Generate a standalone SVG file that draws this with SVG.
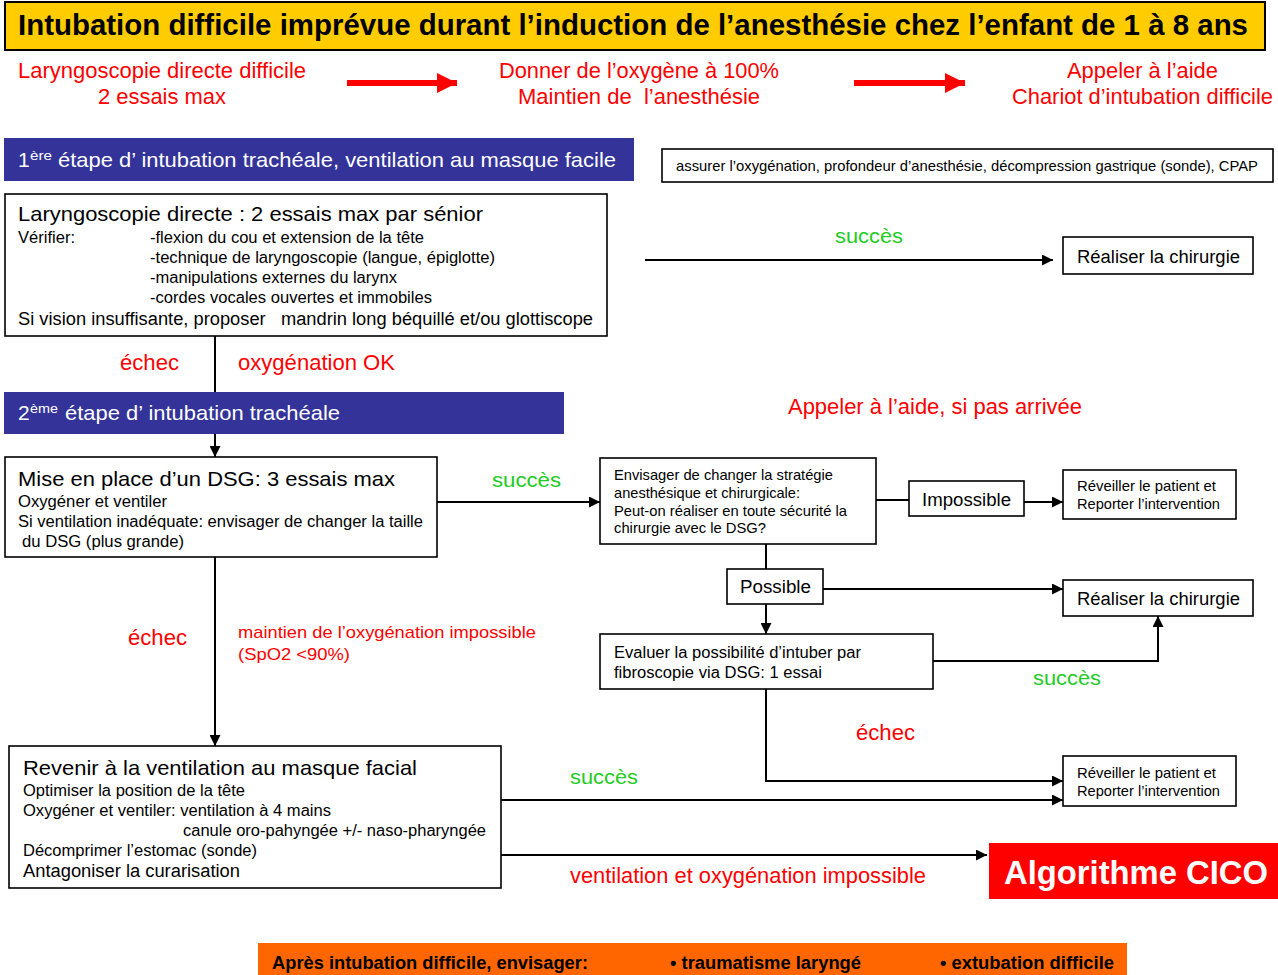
<svg xmlns="http://www.w3.org/2000/svg" width="1278" height="975" viewBox="0 0 1278 975">
<style>
text{font-family:"Liberation Sans",Arial,sans-serif;white-space:pre;}
.box{fill:#fff;stroke:#000;stroke-width:1.6;}
.blue{fill:#333399;}
.wt{fill:#fff;font-size:21px;}
.rd{fill:#ff0000;font-size:22px;}
.gr{fill:#22cc22;font-size:21px;}
.h{fill:#000;font-size:21px;}
.s{fill:#000;font-size:16px;}
.xs{fill:#000;font-size:14.5px;}
.m{fill:#000;font-size:18px;}
.ln{fill:none;stroke:#000;stroke-width:2;}
.rl{fill:none;stroke:#ff0000;stroke-width:6;}
</style>
<defs>
<marker id="ah" viewBox="0 0 10 10" refX="10" refY="5" markerWidth="11" markerHeight="11" markerUnits="userSpaceOnUse" orient="auto">
<path d="M0,0 L10,5 L0,10 z" fill="#000"/>
</marker>
<marker id="rah" viewBox="0 0 10 10" refX="10" refY="5" markerWidth="20" markerHeight="20" markerUnits="userSpaceOnUse" orient="auto">
<path d="M0,0 L10,5 L0,10 z" fill="#ff0000"/>
</marker>
</defs>
<rect width="1278" height="975" fill="#fff"/>

<g id="title">
<rect x="5" y="2" width="1260" height="48" fill="#ffcc00" stroke="#000" stroke-width="2"/>
<text x="18" y="35" font-size="29" font-weight="bold" textLength="1230" lengthAdjust="spacingAndGlyphs">Intubation difficile imprévue durant l’induction de l’anesthésie chez l’enfant de 1 à 8 ans</text>
</g>

<g id="top-line">
<text class="rd" x="18" y="78" textLength="288" lengthAdjust="spacingAndGlyphs">Laryngoscopie directe difficile</text>
<text class="rd" x="98" y="104" textLength="128" lengthAdjust="spacingAndGlyphs">2 essais max</text>
<text class="rd" x="499" y="78" textLength="280" lengthAdjust="spacingAndGlyphs">Donner de l’oxygène à 100%</text>
<text class="rd" x="518" y="104" textLength="242" lengthAdjust="spacingAndGlyphs" xml:space="preserve">Maintien de  l’anesthésie</text>
<text class="rd" x="1067" y="78" textLength="151" lengthAdjust="spacingAndGlyphs">Appeler à l’aide</text>
<text class="rd" x="1012" y="104" textLength="261" lengthAdjust="spacingAndGlyphs">Chariot d’intubation difficile</text>
<line class="rl" x1="347" y1="83" x2="457" y2="83" marker-end="url(#rah)"/>
<line class="rl" x1="854" y1="83" x2="965" y2="83" marker-end="url(#rah)"/>
</g>

<g id="step1">
<rect class="blue" x="4" y="138" width="630" height="43"/>
<text class="wt" x="18" y="167">1</text>
<text fill="#fff" font-size="13" x="30" y="160" textLength="22" lengthAdjust="spacingAndGlyphs">ère</text>
<text class="wt" x="58" y="167" textLength="558" lengthAdjust="spacingAndGlyphs">étape d’ intubation trachéale, ventilation au masque facile</text>
</g>

<g id="assurer">
<rect class="box" x="662" y="149" width="611" height="33"/>
<text x="676" y="171" font-size="15" textLength="582" lengthAdjust="spacingAndGlyphs">assurer l’oxygénation, profondeur d’anesthésie, décompression gastrique (sonde), CPAP</text>
</g>

<g id="laryngo">
<rect class="box" x="5" y="194" width="602" height="142"/>
<text class="h" x="18" y="221" textLength="465" lengthAdjust="spacingAndGlyphs">Laryngoscopie directe : 2 essais max par sénior</text>
<text class="s" x="18" y="243" textLength="57" lengthAdjust="spacingAndGlyphs">Vérifier:</text>
<text class="s" x="150" y="243" textLength="274" lengthAdjust="spacingAndGlyphs">-flexion du cou et extension de la tête</text>
<text class="s" x="150" y="263" textLength="345" lengthAdjust="spacingAndGlyphs">-technique de laryngoscopie (langue, épiglotte)</text>
<text class="s" x="150" y="283" textLength="247" lengthAdjust="spacingAndGlyphs">-manipulations externes du larynx</text>
<text class="s" x="150" y="303" textLength="282" lengthAdjust="spacingAndGlyphs">-cordes vocales ouvertes et immobiles</text>
<text class="m" x="18" y="325" textLength="575" lengthAdjust="spacingAndGlyphs" xml:space="preserve">Si vision insuffisante, proposer   mandrin long béquillé et/ou glottiscope</text>
</g>

<g id="realiser1">
<rect class="box" x="1063" y="237" width="190" height="37"/>
<text class="m" x="1077" y="263" textLength="163" lengthAdjust="spacingAndGlyphs">Réaliser la chirurgie</text>
</g>

<g id="step2">
<rect class="blue" x="4" y="392" width="560" height="42"/>
<text class="wt" x="18" y="420">2</text>
<text fill="#fff" font-size="13" x="30" y="413" textLength="28" lengthAdjust="spacingAndGlyphs">ème</text>
<text class="wt" x="65" y="420" textLength="275" lengthAdjust="spacingAndGlyphs">étape d’ intubation trachéale</text>
</g>

<g id="dsg">
<rect class="box" x="5" y="457" width="432" height="100"/>
<text class="h" x="18" y="486" textLength="377" lengthAdjust="spacingAndGlyphs">Mise en place d’un DSG: 3 essais max</text>
<text class="s" x="18" y="507" textLength="149" lengthAdjust="spacingAndGlyphs">Oxygéner et ventiler</text>
<text class="s" x="18" y="527" textLength="405" lengthAdjust="spacingAndGlyphs">Si ventilation inadéquate: envisager de changer la taille</text>
<text class="s" x="22" y="547" textLength="162" lengthAdjust="spacingAndGlyphs">du DSG (plus grande)</text>
</g>

<g id="strategie">
<rect class="box" x="600" y="458" width="276" height="86"/>
<text class="xs" x="614" y="480" textLength="219" lengthAdjust="spacingAndGlyphs">Envisager de changer la stratégie</text>
<text class="xs" x="614" y="498" textLength="186" lengthAdjust="spacingAndGlyphs">anesthésique et chirurgicale:</text>
<text class="xs" x="614" y="516" textLength="233" lengthAdjust="spacingAndGlyphs">Peut-on réaliser en toute sécurité la</text>
<text class="xs" x="614" y="533" textLength="152" lengthAdjust="spacingAndGlyphs">chirurgie avec le DSG?</text>
</g>

<g id="impossible">
<rect class="box" x="909" y="481" width="115" height="35"/>
<text class="m" x="922" y="506" textLength="89" lengthAdjust="spacingAndGlyphs">Impossible</text>
</g>

<g id="reveiller1">
<rect class="box" x="1063" y="470" width="173" height="49"/>
<text class="xs" x="1077" y="491" textLength="139" lengthAdjust="spacingAndGlyphs">Réveiller le patient et</text>
<text class="xs" x="1077" y="509" textLength="143" lengthAdjust="spacingAndGlyphs">Reporter l’intervention</text>
</g>

<g id="possible">
<rect class="box" x="727" y="569" width="96" height="35"/>
<text class="m" x="740" y="593" textLength="71" lengthAdjust="spacingAndGlyphs">Possible</text>
</g>

<g id="realiser2">
<rect class="box" x="1063" y="580" width="190" height="36"/>
<text class="m" x="1077" y="605" textLength="163" lengthAdjust="spacingAndGlyphs">Réaliser la chirurgie</text>
</g>

<g id="evaluer">
<rect class="box" x="600" y="634" width="333" height="55"/>
<text class="s" x="614" y="658" textLength="247" lengthAdjust="spacingAndGlyphs">Evaluer la possibilité d’intuber par</text>
<text class="s" x="614" y="678" textLength="208" lengthAdjust="spacingAndGlyphs">fibroscopie via DSG: 1 essai</text>
</g>

<g id="reveiller2">
<rect class="box" x="1063" y="756" width="173" height="50"/>
<text class="xs" x="1077" y="778" textLength="139" lengthAdjust="spacingAndGlyphs">Réveiller le patient et</text>
<text class="xs" x="1077" y="796" textLength="143" lengthAdjust="spacingAndGlyphs">Reporter l’intervention</text>
</g>

<g id="revenir">
<rect class="box" x="9" y="746" width="492" height="142"/>
<text class="h" x="23" y="775" textLength="394" lengthAdjust="spacingAndGlyphs">Revenir à la ventilation au masque facial</text>
<text class="s" x="23" y="796" textLength="222" lengthAdjust="spacingAndGlyphs">Optimiser la position de la tête</text>
<text class="s" x="23" y="816" textLength="308" lengthAdjust="spacingAndGlyphs">Oxygéner et ventiler: ventilation à 4 mains</text>
<text class="s" x="183" y="836" textLength="303" lengthAdjust="spacingAndGlyphs">canule oro-pahyngée +/- naso-pharyngée</text>
<text class="s" x="23" y="856" textLength="234" lengthAdjust="spacingAndGlyphs">Décomprimer l’estomac (sonde)</text>
<text class="m" x="23" y="877" textLength="217" lengthAdjust="spacingAndGlyphs">Antagoniser la curarisation</text>
</g>

<g id="cico">
<rect x="989" y="843" width="289" height="56" fill="#ff0000"/>
<text x="1004" y="884" fill="#fff" font-size="33" font-weight="bold" textLength="264" lengthAdjust="spacingAndGlyphs">Algorithme CICO</text>
</g>

<g id="apres">
<rect x="258" y="943" width="869" height="32" fill="#ff6600"/>
<text x="272" y="969" font-size="18" font-weight="bold" textLength="316" lengthAdjust="spacingAndGlyphs">Après intubation difficile, envisager:</text>
<text x="670" y="969" font-size="18" font-weight="bold" textLength="191" lengthAdjust="spacingAndGlyphs">• traumatisme laryngé</text>
<text x="940" y="969" font-size="18" font-weight="bold" textLength="174" lengthAdjust="spacingAndGlyphs">• extubation difficile</text>
</g>

<g id="labels">
<text class="gr" x="835" y="243" textLength="68" lengthAdjust="spacingAndGlyphs">succès</text>
<text class="rd" x="120" y="370" textLength="59" lengthAdjust="spacingAndGlyphs">échec</text>
<text class="rd" x="238" y="370" textLength="157" lengthAdjust="spacingAndGlyphs">oxygénation OK</text>
<text class="rd" x="788" y="414" textLength="294" lengthAdjust="spacingAndGlyphs">Appeler à l’aide, si pas arrivée</text>
<text class="gr" x="492" y="487" textLength="69" lengthAdjust="spacingAndGlyphs">succès</text>
<text class="rd" x="128" y="645" textLength="59" lengthAdjust="spacingAndGlyphs">échec</text>
<text class="rd" x="238" y="638" textLength="298" lengthAdjust="spacingAndGlyphs" style="font-size:17px">maintien de l’oxygénation impossible</text>
<text class="rd" x="238" y="660" style="font-size:17px" textLength="112" lengthAdjust="spacingAndGlyphs">(SpO2 &lt;90%)</text>
<text class="gr" x="1033" y="685" textLength="68" lengthAdjust="spacingAndGlyphs">succès</text>
<text class="rd" x="856" y="740" textLength="59" lengthAdjust="spacingAndGlyphs">échec</text>
<text class="gr" x="570" y="784" textLength="68" lengthAdjust="spacingAndGlyphs">succès</text>
<text class="rd" x="570" y="883" textLength="356" lengthAdjust="spacingAndGlyphs">ventilation et oxygénation impossible</text>
</g>

<g id="connectors">
<line class="ln" x1="645" y1="260" x2="1053" y2="260" marker-end="url(#ah)"/>
<line class="ln" x1="215" y1="336" x2="215" y2="392"/>
<line class="ln" x1="215" y1="434" x2="215" y2="457" marker-end="url(#ah)"/>
<line class="ln" x1="437" y1="502" x2="600" y2="502" marker-end="url(#ah)"/>
<line class="ln" x1="876" y1="500" x2="909" y2="500"/>
<line class="ln" x1="1024" y1="502" x2="1063" y2="502" marker-end="url(#ah)"/>
<line class="ln" x1="766" y1="544" x2="766" y2="569"/>
<line class="ln" x1="823" y1="589" x2="1063" y2="589" marker-end="url(#ah)"/>
<line class="ln" x1="766" y1="604" x2="766" y2="634" marker-end="url(#ah)"/>
<polyline class="ln" points="933,661 1158,661 1158,616" marker-end="url(#ah)"/>
<polyline class="ln" points="766,689 766,781 1063,781" marker-end="url(#ah)"/>
<line class="ln" x1="215" y1="557" x2="215" y2="746" marker-end="url(#ah)"/>
<line class="ln" x1="501" y1="800" x2="1063" y2="800" marker-end="url(#ah)"/>
<line class="ln" x1="501" y1="855" x2="987" y2="855" marker-end="url(#ah)"/>
</g>
</svg>
